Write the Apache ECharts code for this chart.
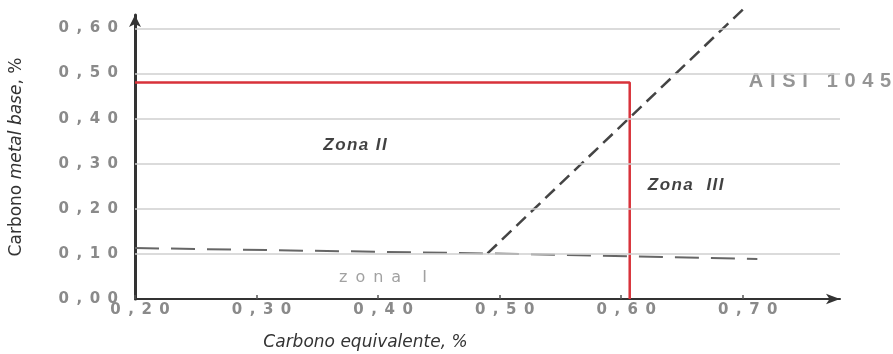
<!DOCTYPE html>
<html>
<head>
<meta charset="utf-8">
<script src="https://cdn.jsdelivr.net/npm/echarts@6/dist/echarts.min.js"></script>
<style>
  html, body { margin: 0; padding: 0; background: #fff; }
  #chart { width: 893px; height: 354px; }
</style>
</head>
<body>
<div id="chart"></div>
<script>
// Graville diagram: carbon equivalent vs. base-metal carbon
const gridValues = [0.1, 0.2, 0.3, 0.4, 0.5, 0.6];
// AISI 1045 operating point (red limit lines)
const redLimit = [[0.20, 0.48], [0.607, 0.48], [0.607, 0.00]];
// Zone I / zone II boundary (long dashes)
const boundaryLow = [[0.20, 0.113], [0.49, 0.101], [0.712, 0.089]];
// Zone II / zone III boundary (short dashes)
const boundaryDiag = [[0.49, 0.101], [0.702, 0.647]];
// Zone captions
const zoneNames = ['Zona II', 'Zona  III', 'zona I'];
const zoneX = [0.381, 0.653, 0.404];
const zoneY = [0.342, 0.253, 0.047];
const steelName = 'AISI 1045';
const steelPos = [0.705, 0.482];

const spaced = (s, sep) => s.split('').join(sep);
const fmt = v => spaced(v.toFixed(2).replace('.', ','), '\u2002');

const chart = echarts.init(document.getElementById('chart'));

const zoneStyles = [
  { color: '#111', fontWeight: 'bold', fontStyle: 'italic', fontSize: 17, fontFamily: 'Liberation Sans', sep: '\u200A' },
  { color: '#111', fontWeight: 'bold', fontStyle: 'italic', fontSize: 17, fontFamily: 'Liberation Sans', sep: '\u200A' },
  { color: '#8a8a8a', fontWeight: 'normal', fontStyle: 'normal', fontSize: 16, fontFamily: 'DejaVu Sans', sep: '\u2002' }
];

const zoneData = zoneNames.map((n, i) => ({
  value: [zoneX[i], zoneY[i]],
  label: {
    show: true,
    position: 'inside',
    formatter: () => spaced(n, zoneStyles[i].sep),
    color: zoneStyles[i].color,
    fontWeight: zoneStyles[i].fontWeight,
    fontStyle: zoneStyles[i].fontStyle,
    fontSize: zoneStyles[i].fontSize,
    fontFamily: zoneStyles[i].fontFamily
  }
}));

const tickLabel = {
  color: '#8a8a8a', fontSize: 15, fontWeight: 'bold', fontFamily: 'DejaVu Sans',
  showMaxLabel: false, formatter: v => fmt(v)
};

chart.setOption({
  animation: false,
  backgroundColor: '#fff',
  grid: { left: 135, right: 53, top: 15, bottom: 55, containLabel: false, outerBoundsMode: 'none' },
  xAxis: {
    type: 'value',
    min: 0.2, max: 0.78, interval: 0.1,
    name: 'Carbono equivalente, %',
    nameLocation: 'middle',
    nameGap: 35,
    nameTextStyle: {
      color: '#333', fontSize: 17, fontStyle: 'italic', fontFamily: 'DejaVu Sans',
      padding: [0, 244, 0, 0]
    },
    axisLine: {
      lineStyle: { color: '#333', width: 2 },
      symbol: ['none', 'arrow'], symbolSize: [8, 14], symbolOffset: [0, 0]
    },
    axisTick: { show: true, inside: true, length: 4, lineStyle: { color: '#555', width: 1.5 } },
    splitLine: { show: false },
    axisLabel: Object.assign({ margin: 4, padding: [0, 0, 0, 10] }, tickLabel)
  },
  yAxis: {
    type: 'value',
    min: 0, max: 0.63, interval: 0.1,
    name: '{n|Carbono }{i|metal base}{n|, %}',
    nameLocation: 'middle',
    nameGap: 110,
    nameRotate: 90,
    nameTextStyle: {
      rich: {
        n: { color: '#333', fontSize: 17, fontFamily: 'DejaVu Sans' },
        i: { color: '#333', fontSize: 17, fontFamily: 'DejaVu Sans', fontStyle: 'italic' }
      }
    },
    axisLine: {
      lineStyle: { color: '#333', width: 3 },
      symbol: ['none', 'arrow'], symbolSize: [9, 12], symbolOffset: [0, 0]
    },
    axisTick: { show: false },
    splitLine: { show: false },
    axisLabel: Object.assign({ margin: 17 }, tickLabel)
  },
  series: [
    {
      type: 'line',
      data: [],
      silent: true,
      markLine: {
        symbol: 'none',
        silent: true,
        label: { show: false },
        lineStyle: { color: '#cfcfcf', width: 1.5, type: 'solid' },
        data: gridValues.map(v => ({ yAxis: v }))
      }
    },
    {
      type: 'line',
      data: boundaryLow,
      symbol: 'none',
      lineStyle: { color: '#666', width: 2, type: [24, 12] }
    },
    {
      type: 'line',
      data: boundaryDiag,
      symbol: 'none',
      clip: false,
      lineStyle: { color: '#444', width: 2.5, type: [13, 7] }
    },
    {
      type: 'line',
      data: redLimit,
      symbol: 'none',
      lineStyle: { color: '#d8323a', width: 2.5 }
    },
    {
      type: 'scatter',
      symbolSize: 0,
      data: zoneData
    },
    {
      type: 'scatter',
      symbolSize: 0,
      clip: false,
      data: [{
        value: steelPos,
        label: {
          show: true, position: 'right', distance: 0,
          formatter: () => spaced(steelName, '\u2004'),
          color: '#7a7a7a', fontSize: 20, fontWeight: 'bold', fontFamily: 'Liberation Sans'
        }
      }]
    }
  ]
});
</script>
</body>
</html>
